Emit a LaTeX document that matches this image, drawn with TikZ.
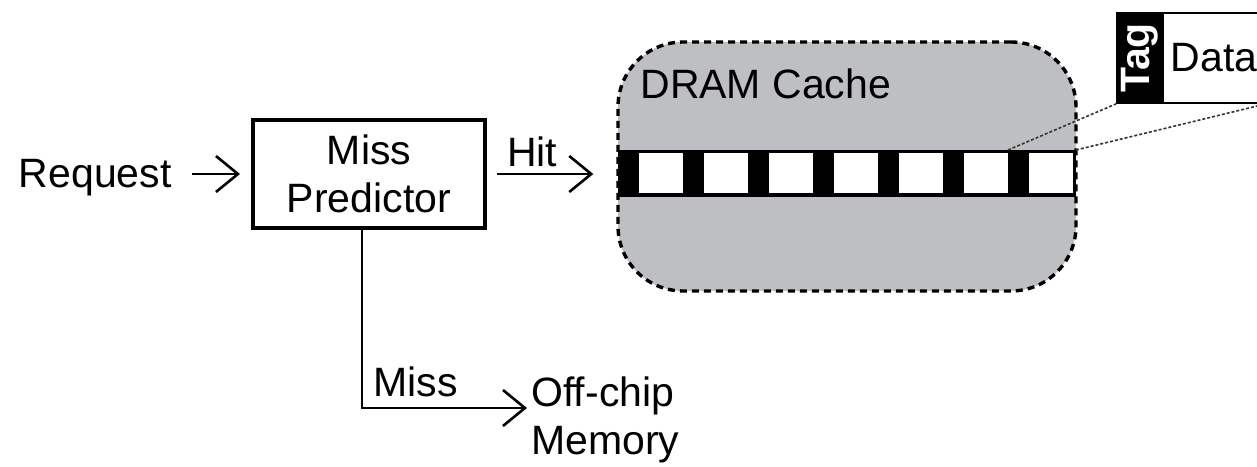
\documentclass[tikz,border=0pt]{standalone}
\usepackage{fontspec}
\setmainfont{Liberation Sans}
\usetikzlibrary{arrows.meta}
\definecolor{cachegray}{RGB}{190,191,195}

\begin{document}
\begin{tikzpicture}[x=0.5pt, y=-0.5pt,
	every node/.style={font=\fontsize{20.5}{24}\selectfont, inner sep=0pt},
	flow/.style={line width=1.3pt, -{Straight Barb[length=11pt,width=18pt,line width=1.3pt]}},
	predbox/.style={draw, line width=2pt, minimum width=116pt, minimum height=54pt, align=center},
	cachebox/.style={draw, fill=cachegray, line width=1.7pt, dash pattern=on 3.5pt off 2.5pt, rounded corners=32.5pt, minimum width=229pt, minimum height=124.5pt},
	callout/.style={line width=0.8pt, dash pattern=on 1.5pt off 1pt, black!80}]
	\clip (0,0) rectangle (1257,466);
	
	% Draw request and miss predictor
	\node[anchor=base east] (request) at (172,187) {Request};
	\node[predbox] (predictor) at (369,174) {Miss\\Predictor};
	\draw[flow, shorten <=10pt, shorten >=5.5pt] (request.east |- predictor.west) -- (predictor.west);
	
	% Draw DRAM cache
	\node[cachebox] (cache) at (847,166.5) {};
	\node[anchor=base west] (cachelabel) at (640,98) {DRAM Cache};
	
	% Draw hit line
	\draw[flow, shorten <=5pt, shorten >=11.5pt] (predictor.east) -- node[above, inner sep=3pt, pos=0.35] {Hit} (predictor.east -| cache.west);
	
	% Draw cache row
	\fill[black] (618,150) rectangle (1076,197);
	\foreach \i in {0,...,6}
		\fill[white] (639+65*\i,153) rectangle (683+65*\i,193);
	\coordinate (lasttag) at (1008,150);
	\coordinate (rowend) at (1076,150);
	
	% Draw tag and data
	\node[draw, fill=black, line width=0.9pt, minimum width=23pt, minimum height=45pt] (tag) at (1140,58) {\rotatebox{90}{\textcolor{white}{\bfseries Tag}}};
	\node[draw, fill=white, line width=0.9pt, minimum width=51pt, minimum height=45pt] (data) at (1214,58) {Data};
	\draw[callout] (lasttag) -- (tag.south west);
	\draw[callout] (rowend) -- (data.south east);
	
	% Draw miss line
	\coordinate (offin) at (527,408);
	\draw[flow] ([xshift=-3.5pt]predictor.south) |- node[pos=0.5, anchor=south west, inner sep=5pt] {Miss} (offin);
	\node[anchor=west, align=left] (offchip) at (531,420) {Off-chip\\Memory};
\end{tikzpicture}
\end{document}
